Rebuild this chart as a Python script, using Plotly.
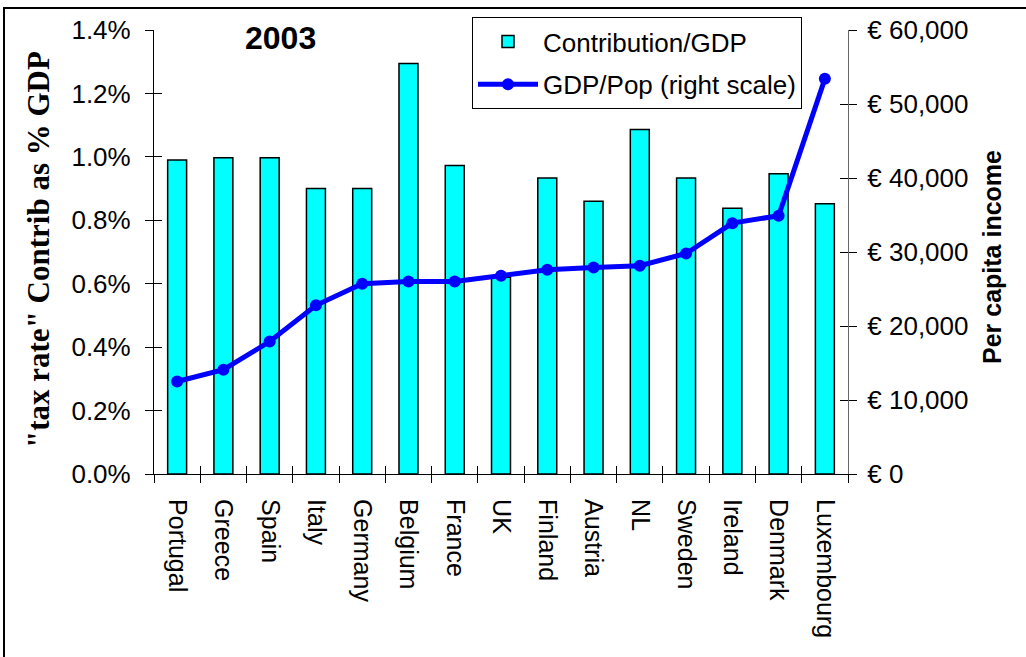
import plotly.graph_objects as go

countries = ["Portugal", "Greece", "Spain", "Italy", "Germany", "Belgium", "France", "UK",
             "Finland", "Austria", "NL", "Sweden", "Ireland", "Denmark", "Luxembourg"]
contrib_gdp = [0.0099, 0.00997, 0.00997, 0.0090, 0.0090, 0.01294, 0.00973, 0.0062,
               0.00933, 0.0086, 0.01086, 0.00933, 0.00838, 0.00947, 0.00852]
gdp_pop = [12500, 14100, 17900, 22800, 25700, 26000, 26000, 26800,
           27600, 27900, 28150, 29800, 33900, 34900, 53400]
left_ticks = [0, 0.002, 0.004, 0.006, 0.008, 0.010, 0.012, 0.014]
right_ticks = [0, 10000, 20000, 30000, 40000, 50000, 60000]
right_labels = ["€ 0", "€ 10,000", "€ 20,000", "€ 30,000", "€ 40,000", "€ 50,000", "€ 60,000"]

W, H = 1026, 657
L, R, T, B = 154, 848, 30, 474   # plot area in pixels

SANS = "Liberation Sans, Arial, sans-serif"
SERIF = "Liberation Serif, Times New Roman, serif"
FS = 26

fig = go.Figure()
fig.add_trace(go.Bar(
    x=countries, y=contrib_gdp, name="Contribution/GDP", legendgroup="a",
    marker=dict(color="#00FFFF", line=dict(color="black", width=1.5)),
    xaxis="x", yaxis="y",
))
fig.add_trace(go.Scatter(
    x=countries, y=gdp_pop, name="GDP/Pop (right scale)", legendgroup="b",
    mode="lines+markers",
    line=dict(color="#0000FF", width=5),
    marker=dict(color="#0000FF", size=12),
    xaxis="x", yaxis="y2",
))

n = len(countries)
boundaries = [i - 0.5 for i in range(n + 1)]

pw, ph = R - L, B - T
def px(xs):
    return (xs - L) / pw
def py(ys):
    return (B - ys) / ph

fig.update_layout(
    width=W, height=H,
    margin=dict(l=L, r=W - R, t=T, b=H - B, pad=0, autoexpand=False),
    paper_bgcolor="white", plot_bgcolor="white",
    font=dict(family=SANS, size=FS, color="black"),
    bargap=0.59,
    showlegend=True,
    legend=dict(
        x=px(472), y=py(17), xanchor="left", yanchor="top",
        bordercolor="black", borderwidth=1, bgcolor="white",
        font=dict(family=SANS, size=FS), itemwidth=60,
        tracegroupgap=6,
    ),
    xaxis=dict(
        type="category", range=[-0.5, n - 0.5],
        showline=True, linecolor="black", linewidth=1.2,
        ticks="outside", ticklen=8, tickcolor="black", tickwidth=1,
        tickson="boundaries", tickangle=90,
        tickfont=dict(family=SANS, size=FS - 1), ticklabelstandoff=19,
        showgrid=False, zeroline=False, fixedrange=True,
    ),
    xaxis2=dict(
        overlaying="x", range=[-0.5, n - 0.5], showline=False,
        ticks="inside", ticklen=8, tickcolor="black", tickwidth=1,
        tickmode="array", tickvals=boundaries, showticklabels=False,
        showgrid=False, zeroline=False, side="bottom",
    ),
    yaxis=dict(
        range=[0, 0.014], tickmode="array", tickvals=left_ticks, tickformat=".1%",
        showline=True, linecolor="black", linewidth=1.2,
        ticks="outside", ticklen=8, tickcolor="black", tickwidth=1,
        tickfont=dict(family=SANS, size=FS), ticklabelstandoff=9,
        showgrid=False, zeroline=False,
    ),
    yaxis3=dict(
        overlaying="y", side="left", range=[0, 0.014],
        tickmode="array", tickvals=left_ticks, showticklabels=False,
        ticks="inside", ticklen=8, tickcolor="black", tickwidth=1,
        showline=False, showgrid=False, zeroline=False,
    ),
    yaxis2=dict(
        overlaying="y", side="right", range=[0, 60000],
        tickmode="array", tickvals=right_ticks, ticktext=right_labels,
        showline=True, linecolor="#666666", linewidth=1.2,
        ticks="outside", ticklen=8, tickcolor="black", tickwidth=1,
        tickfont=dict(family=SANS, size=FS), ticklabelstandoff=5,
        showgrid=False, zeroline=False,
    ),
    yaxis4=dict(
        overlaying="y", side="right", range=[0, 60000],
        tickmode="array", tickvals=right_ticks, showticklabels=False,
        ticks="inside", ticklen=8, tickcolor="black", tickwidth=1,
        showline=False, showgrid=False, zeroline=False,
    ),
)

# invisible traces so the overlay tick axes render
fig.add_trace(go.Scatter(x=[0], y=[0], xaxis="x2", yaxis="y3", mode="markers",
                         marker=dict(opacity=0), showlegend=False, hoverinfo="skip"))
fig.add_trace(go.Scatter(x=[0], y=[0], xaxis="x2", yaxis="y4", mode="markers",
                         marker=dict(opacity=0), showlegend=False, hoverinfo="skip"))

fig.add_annotation(text="<b>2003</b>", xref="paper", yref="paper",
                   x=px(280), y=py(38), xanchor="center", yanchor="middle", showarrow=False,
                   font=dict(family=SANS, size=32, color="black"))
fig.add_annotation(text='<b>"tax rate" Contrib as % GDP</b>', xref="paper", yref="paper",
                   x=px(38), y=py(250), xanchor="center", yanchor="middle",
                   textangle=-90, showarrow=False,
                   font=dict(family=SERIF, size=31, color="black"))
fig.add_annotation(text="<b>Per capita income</b>", xref="paper", yref="paper",
                   x=px(992), y=py(257), xanchor="center", yanchor="middle",
                   textangle=-90, showarrow=False,
                   font=dict(family=SANS, size=25, color="black"))

fig.add_shape(type="rect", xref="paper", yref="paper",
              x0=px(4), y0=py(690), x1=px(1050), y1=py(8),
              line=dict(color="black", width=2), fillcolor="rgba(0,0,0,0)", layer="below")

fig.write_html("out.html", config={"displayModeBar": False},
               post_script="document.body.style.margin='0px';")
